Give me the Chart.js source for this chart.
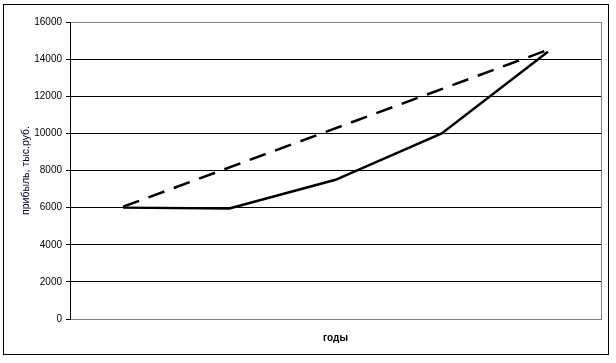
<!DOCTYPE html>
<html>
<head>
<meta charset="utf-8">
<script src="https://cdn.jsdelivr.net/npm/chart.js@4"></script>
<style>
  html, body { margin: 0; padding: 0; background: #fff; }
  #wrap { width: 616px; height: 363px; }
</style>
</head>
<body>
<div id="wrap"><canvas id="grafico"></canvas></div>
<script>
// данные графика
const годы = ['1', '2', '3', '4', '5'];
const прибыль = [6000, 5950, 7500, 10000, 14400];
const тренд = [6050, null, null, null, 14500];
const делений = [0, 2000, 4000, 6000, 8000, 10000, 12000, 14000, 16000];

// рамка вокруг всего графика и серая рамка области построения
const рамка = {
    id: 'рамка',
    beforeDraw(chart) {
        const ctx = chart.ctx;
        ctx.save();
        ctx.strokeStyle = '#000';
        ctx.lineWidth = 1;
        ctx.strokeRect(3.5, 4.5, 605, 350);
        ctx.restore();
    },
    beforeDatasetsDraw(chart) {
        const { ctx, chartArea } = chart;
        ctx.save();
        ctx.strokeStyle = '#808080';
        ctx.lineWidth = 1;
        ctx.beginPath();
        ctx.moveTo(chartArea.right + 0.5, chartArea.top);
        ctx.lineTo(chartArea.right + 0.5, chartArea.bottom);
        ctx.stroke();
        ctx.restore();
    }
};

const ctx = document.getElementById('grafico').getContext('2d');
new Chart(ctx, {
    type: 'line',
    data: {
        labels: годы,
        datasets: [{
            label: 'прибыль',
            data: прибыль,
            borderColor: '#000',
            borderWidth: 2.5,
            pointRadius: 0,
            tension: 0
        }, {
            label: 'тренд',
            data: тренд,
            borderColor: '#000',
            borderWidth: 2.5,
            borderDash: [17, 10],
            pointRadius: 0,
            spanGaps: true,
            tension: 0
        }]
    },
    options: {
        responsive: true,
        maintainAspectRatio: false,
        animation: false,
        layout: { padding: { top: 22, right: 15, left: 0, bottom: 0 } },
        plugins: {
            legend: { display: false },
            tooltip: { enabled: false }
        },
        scales: {
            x: {
                offset: true,
                grid: { display: false },
                border: { color: '#808080' },
                ticks: { display: false },
                title: {
                    display: true,
                    text: 'годы',
                    color: '#000',
                    font: { family: 'Liberation Sans, Arial', size: 10, weight: 'bold' },
                    padding: { top: 0, bottom: 19 }
                },
                afterFit(scale) { scale.height = 44; }
            },
            y: {
                min: 0,
                max: 16000,
                afterBuildTicks(scale) {
                    scale.ticks = делений.map(v => ({ value: v }));
                },
                grid: {
                    color: c => (c.tick && (c.tick.value === 0 || c.tick.value === 16000)) ? '#808080' : '#000',
                    tickColor: '#000',
                    tickLength: 4,
                    lineWidth: 1
                },
                border: { color: '#000' },
                ticks: {
                    color: '#000',
                    padding: 4,
                    font: { family: 'Liberation Sans, Arial', size: 10 },
                    callback: v => String(v)
                },
                title: {
                    display: true,
                    text: 'прибыль, тыс.руб.',
                    color: '#000020',
                    font: { family: 'Liberation Sans, Arial', size: 10.5 },
                    padding: { top: 20, bottom: 0 }
                },
                afterFit(scale) { scale.width = 70; }
            }
        }
    },
    plugins: [рамка]
});
</script>
</body>
</html>
